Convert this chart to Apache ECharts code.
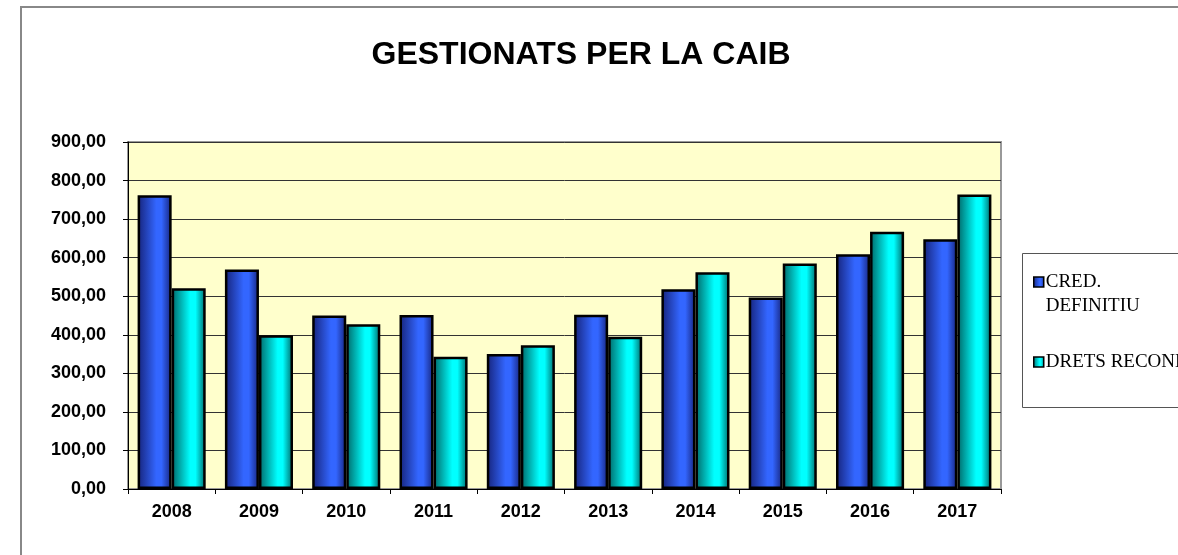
<!DOCTYPE html>
<html>
<head>
  <meta charset="utf-8">
  <title>GESTIONATS PER LA CAIB</title>
  <script src="https://cdn.jsdelivr.net/npm/echarts@6/dist/echarts.min.js"></script>
  <style>
    html, body { margin: 0; padding: 0; background: #fff; }
    #chart { width: 1178px; height: 555px; }
  </style>
</head>
<body>
  <div id="chart"></div>
  <script>
    const years = ['2008', '2009', '2010', '2011', '2012', '2013', '2014', '2015', '2016', '2017'];
    const credDefinitiu = [762, 569, 450, 451, 350, 452, 518, 497, 609, 648];
    const dretsReconeguts = [521, 399, 427, 343, 373, 395, 562, 585, 667, 764];
    const seriesNames = ['CRED. DEFINITIU', 'DRETS RECONEGUTS'];

    // gradient a l'estil Excel: vores fosques, centre clar
    function barGradient(dark, light) {
      return new echarts.graphic.LinearGradient(0, 0, 1, 0, [
        { offset: 0, color: dark },
        { offset: 0.55, color: light },
        { offset: 0.7, color: light },
        { offset: 1, color: dark }
      ]);
    }

    const legendText = { fontFamily: 'Liberation Serif, Times New Roman', fontSize: 19, color: '#000', lineHeight: 24, padding: [0, 0, 0, -3] };

    let myChart = echarts.init(document.getElementById('chart'));
    let option = {
      animation: false,
      title: {
        text: 'GESTIONATS PER LA CAIB',
        left: 576,
        textAlign: 'center',
        top: 34,
        textStyle: { fontFamily: 'Liberation Sans, Arial', fontWeight: 'bold', fontSize: 32, color: '#000' }
      },
      graphic: [
        {
          type: 'rect', silent: true, z: -10,
          shape: { x: 21, y: 7, width: 1300, height: 700 },
          style: { fill: 'none', stroke: '#888', lineWidth: 2 }
        },
        {
          type: 'rect', silent: true,
          shape: { x: 1022.5, y: 253.5, width: 300, height: 154 },
          style: { fill: '#fff', stroke: '#555', lineWidth: 1 }
        }
      ],
      legend: [
        {
          left: 1028, top: 241, z: 10,
          itemWidth: 10, itemHeight: 10, itemGap: 3,
          icon: 'rect',
          data: [seriesNames[0]],
          // línia buida al principi perquè la icona quedi a l'altura de "CRED."
          formatter: function () { return '\nCRED.\nDEFINITIU'; },
          itemStyle: { borderColor: '#000', borderWidth: 1.5 },
          textStyle: legendText
        },
        {
          left: 1028, top: 345, z: 10,
          itemWidth: 10, itemHeight: 10, itemGap: 3,
          icon: 'rect',
          data: [seriesNames[1]],
          itemStyle: { borderColor: '#000', borderWidth: 1.5 },
          textStyle: legendText
        }
      ],
      grid: {
        left: 128,
        right: 177,
        top: 142,
        bottom: 66,
        show: true,
        backgroundColor: '#ffffcc',
        borderColor: '#999',
        borderWidth: 2
      },
      xAxis: {
        type: 'category',
        data: years,
        axisLine: { lineStyle: { color: '#000', width: 1 } },
        axisTick: { show: true, length: 5, lineStyle: { color: '#000' } },
        axisLabel: { margin: 14, fontFamily: 'Liberation Sans, Arial', fontWeight: 'bold', fontSize: 18, color: '#000' }
      },
      yAxis: {
        type: 'value',
        min: 0,
        max: 900,
        interval: 100,
        axisLine: { show: true, lineStyle: { color: '#000', width: 1 } },
        axisTick: { show: true, length: 5, lineStyle: { color: '#000' } },
        splitLine: { lineStyle: { color: '#333', width: 1 } },
        axisLabel: {
          margin: 22,
          fontFamily: 'Liberation Sans, Arial',
          fontWeight: 'bold',
          fontSize: 18,
          color: '#000',
          formatter: function (v) { return v.toFixed(2).replace('.', ','); }
        }
      },
      series: [
        {
          name: seriesNames[0],
          type: 'bar',
          data: credDefinitiu,
          barGap: '0%',
          barCategoryGap: '22%',
          itemStyle: { color: barGradient('#16237a', '#3366ff'), borderColor: '#000', borderWidth: 2.5 }
        },
        {
          name: seriesNames[1],
          type: 'bar',
          data: dretsReconeguts,
          itemStyle: { color: barGradient('#006666', '#00ffff'), borderColor: '#000', borderWidth: 2.5 }
        }
      ]
    };
    myChart.setOption(option);
  </script>
</body>
</html>
